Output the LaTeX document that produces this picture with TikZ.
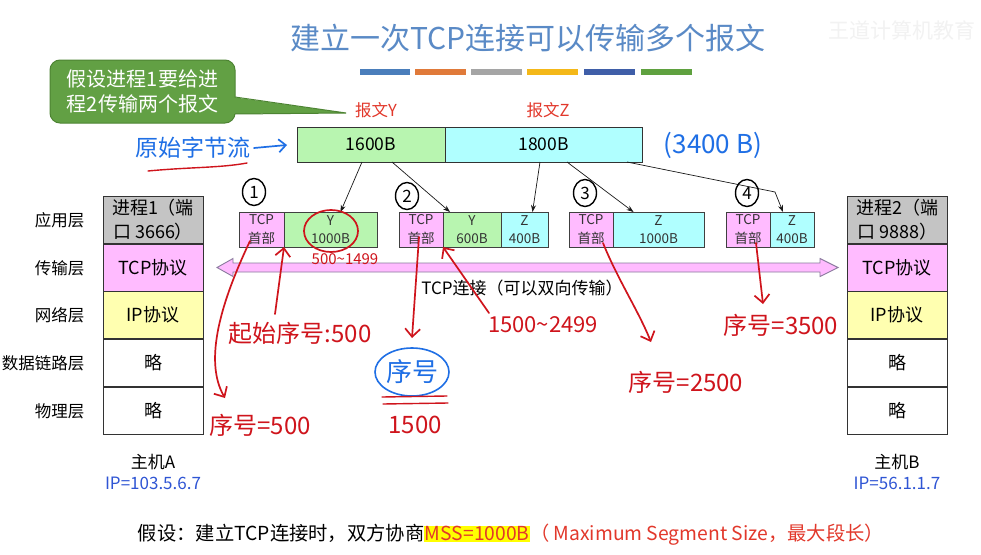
\documentclass[tikz,border=0pt]{standalone}
\usepackage{fontspec}
\setmainfont{Noto Sans CJK SC}
\usetikzlibrary{arrows.meta,calc,shapes.geometric}

\definecolor{titleblue}{HTML}{5A8AC6}
\definecolor{barblue}{HTML}{4A7EBB}
\definecolor{barorange}{HTML}{E07A3A}
\definecolor{bargray}{HTML}{A5A5A5}
\definecolor{baryellow}{HTML}{F4B819}
\definecolor{bardark}{HTML}{3F5EA8}
\definecolor{bargreen}{HTML}{5FA13F}
\definecolor{pinkfill}{HTML}{FFBBFF}
\definecolor{yellowfill}{HTML}{FFFFB0}
\definecolor{grayfill}{HTML}{C4C4C4}
\definecolor{greenfill}{HTML}{B8F5B0}
\definecolor{cyanfill}{HTML}{B0FFFF}
\definecolor{textred}{HTML}{E2382B}
\definecolor{inkred}{HTML}{CF141C}
\definecolor{inkblue}{HTML}{1F6FE5}
\definecolor{ipblue}{HTML}{2F55D4}
\definecolor{calloutgreen}{HTML}{62A044}
\definecolor{calloutedge}{HTML}{4D8433}
\definecolor{linkedge}{HTML}{8A7A9E}
\definecolor{mssyellow}{HTML}{FFFF00}

\newcommand{\fsz}[2]{\fontsize{#1}{#2}\selectfont}

\begin{document}
\begin{tikzpicture}[x=1pt,y=-1pt,
    layer/.style={draw=black!80, line width=0.9pt, minimum width=100pt, minimum height=47.8pt,
        inner sep=0pt, outer sep=0pt, align=center, font=\fsz{18}{24}},
    layername/.style={anchor=east, font=\fsz{16.5}{16.5}},
    seg/.style={draw=black!75, line width=0.8pt, minimum height=35pt, inner sep=0pt, outer sep=0pt,
        anchor=west, align=center, text=black!80, font=\fsz{13.5}{18}},
    bytes/.style={draw=black!80, line width=0.9pt, minimum height=35pt, inner sep=0pt, outer sep=0pt,
        font=\fsz{17.5}{17.5}},
    feed/.style={-{Stealth[length=7pt,width=5pt]}, line width=0.7pt, black!90},
    numcirc/.style={ellipse, draw, line width=1.4pt, inner sep=0pt, minimum width=23pt,
        minimum height=27pt, font=\fsz{17}{17}},
    ink/.style={draw=inkred, line width=1.7pt, line cap=round, line join=round},
    inktip/.style={-{Straight Barb[length=8pt,width=15pt]}},
    inktext/.style={text=inkred, font=\fsz{24}{24}},
  ]
  \useasboundingbox (0,0) rectangle (981,554);
  \fill[white] (0,0) rectangle (981,554);

  % title and bars
  \node[text=titleblue, font=\fsz{30}{30}] (title) at (528,38) {建立一次TCP连接可以传输多个报文};
  \node[text=black!5, font=\fsz{21}{21}] (mark) at (902,30) {王道计算机教育};
  \foreach \xa/\xb/\c in {360/410/barblue, 415/466/barorange, 471/522/bargray,
                          527/578/baryellow, 584/635/bardark, 641/692/bargreen}
    \fill[\c] (\xa,69) rectangle (\xb,75);

  % callout
  \node[fill=calloutgreen, draw=calloutedge, line width=1pt, rounded corners=10pt,
        minimum width=185pt, minimum height=63pt, text=white, align=left,
        font=\fsz{20}{25}] (note) at (142.5,91.5) {假设进程1要给进\\程2传输两个报文};
  \coordinate (notetip) at (346,113);
  \fill[calloutgreen] (232,97) -- (notetip) -- (232,114) -- cycle;
  \draw[calloutedge, line width=1pt] (235,97) -- (notetip) -- (235,114);

  % byte stream
  \node[text=textred, font=\fsz{16.5}{16.5}] (labY) at (376,110) {报文Y};
  \node[text=textred, font=\fsz{16.5}{16.5}] (labZ) at (548,110) {报文Z};
  \node[bytes, fill=greenfill, minimum width=148pt, anchor=west] (msgY) at (297,144.5) {1600B};
  \node[bytes, fill=cyanfill, minimum width=197pt, anchor=west] (msgZ) at (msgY.east) {1800B};

  % host A
  \node[layer, fill=grayfill] (A1) at (153,220) {进程1（端\\口 3666）};
  \node[layer, fill=pinkfill] (A2) at (153,268) {TCP协议};
  \node[layer, fill=yellowfill] (A3) at (153,315) {IP协议};
  \node[layer] (A4) at (153,363) {略};
  \node[layer] (A5) at (153,411) {略};
  \node[layername] (L1) at (88,220) {应用层};
  \node[layername] (L2) at (88,268) {传输层};
  \node[layername] (L3) at (88,315) {网络层};
  \node[layername] (L4) at (88,363) {数据链路层};
  \node[layername] (L5) at (88,411) {物理层};
  \node[font=\fsz{17}{17}] (hostA) at (153,462) {主机A};
  \node[text=ipblue, font=\fsz{17}{17}] (ipA) at (153,483) {IP=103.5.6.7};

  % host B
  \node[layer, fill=grayfill] (B1) at (897,220) {进程2（端\\口 9888）};
  \node[layer, fill=pinkfill] (B2) at (897,268) {TCP协议};
  \node[layer, fill=yellowfill] (B3) at (897,315) {IP协议};
  \node[layer] (B4) at (897,363) {略};
  \node[layer] (B5) at (897,411) {略};
  \node[font=\fsz{17}{17}] (hostB) at (897,462) {主机B};
  \node[text=ipblue, font=\fsz{17}{17}] (ipB) at (897,483) {IP=56.1.1.7};

  % segments
  \node[seg, fill=pinkfill, minimum width=45pt] (s1h) at (239,229.5) {TCP\\首部};
  \node[seg, fill=greenfill, minimum width=93pt] (s1y) at (s1h.east) {Y\\1000B};
  \node[seg, fill=pinkfill, minimum width=44pt] (s2h) at (399,229.5) {TCP\\首部};
  \node[seg, fill=greenfill, minimum width=58pt] (s2y) at (s2h.east) {Y\\600B};
  \node[seg, fill=cyanfill, minimum width=47pt] (s2z) at (s2y.east) {Z\\400B};
  \node[seg, fill=pinkfill, minimum width=44pt] (s3h) at (569,229.5) {TCP\\首部};
  \node[seg, fill=cyanfill, minimum width=91pt] (s3z) at (s3h.east) {Z\\1000B};
  \node[seg, fill=pinkfill, minimum width=44pt] (s4h) at (726,229.5) {TCP\\首部};
  \node[seg, fill=cyanfill, minimum width=44pt] (s4z) at (s4h.east) {Z\\400B};

  \coordinate (f1) at (362,162);
  \coordinate (f2) at (392,162);
  \coordinate (f3) at (540,162);
  \coordinate (f4) at (567,162);
  \coordinate (f5) at (627,162);
  \coordinate (bend4) at (775,192);
  \draw[feed] (f1) -- ($(s1y.north)+(10,0)$);
  \draw[feed] (f2) -- ($(s2y.north west)+(7,0)$);
  \draw[feed] (f3) -- ($(s2z.north)+(8,0)$);
  \draw[feed] (f4) -- ($(s3z.north)+(-25,0)$);
  \draw[feed] (f5) -- (bend4) -- ($(s4z.north)+(-9,0)$);

  \node[numcirc] (n1) at (254,192) {1};
  \node[numcirc] (n2) at (407,196) {2};
  \node[numcirc] (n3) at (585,193) {3};
  \node[numcirc] (n4) at (747,193) {4};

  % TCP connection
  \draw[linkedge, fill=pinkfill, line width=0.9pt]
    (217,267.5) -- (233,258.5) -- (233,263) -- (820,263) -- (820,258.5) -- (838,267.5)
    -- (820,276.5) -- (820,272) -- (233,272) -- (233,276.5) -- cycle;
  \node[font=\fsz{17}{17}] (link) at (522,288) {TCP连接（可以双向传输）};

  % handwritten notes
  \node[text=inkblue, font=\fsz{23}{23}] (raw) at (193,148) {原始字节流};
  \coordinate (rawend) at (287,145);
  \draw[inkblue, line width=1.7pt, line cap=round, -{Straight Barb[length=7pt,width=13pt]}]
    (raw.east) -- (rawend);
  \draw[ink, line width=1.4pt] (148,171) .. controls (190,167) and (220,168) .. (247,163);
  \node[text=inkblue, font=\fsz{26}{26}] (total) at (713,145) {(3400 B)};

  \draw[ink] (331,231) ellipse [x radius=27, y radius=21];
  \node[text=inkred, font=\fsz{15}{15}] (r1) at (345,259) {500{\char"7E}1499};

  \node[inktext] (start) at (300,333) {起始序号:500};
  \draw[ink, inktip] (275,314) -- (s1y.south west);

  \node[inktext] (q1) at (260,425) {序号=500};
  \draw[ink, inktip] (250,241) .. controls (222,300) and (203,360) .. (225,398);

  \draw[ink, inktip] (419,237) -- (412,338);
  \node[text=inkblue, font=\fsz{26}{26}] (q2) at (412,372) {序号};
  \draw[inkblue, line width=1.6pt] (q2) ellipse [x radius=37, y radius=24];
  \draw[ink, line width=1.4pt] (382,397) -- (447,396);
  \draw[ink, line width=1.4pt] (383,404) -- (448,403);
  \node[inktext] (q2v) at (415,425) {1500};

  \node[text=inkred, font=\fsz{22}{22}] (r2) at (543,325) {1500{\char"7E}2499};
  \draw[ink, inktip] (489,313) -- (s2y.south west);

  \draw[ink, inktip] (603,243) .. controls (618,280) and (638,310) .. (651,342);
  \node[inktext] (q3) at (686,382) {序号=2500};

  \draw[ink, inktip] (756,243) -- (763,304);
  \node[inktext] (q4) at (781,325) {序号=3500};

  % assumption
  \node[font=\fsz{19.3}{19.3}] (mss) at (511,535)
    {假设：建立TCP连接时，双方协商{\setlength{\fboxsep}{0.5pt}\colorbox{mssyellow}{\textcolor{textred}{MSS=1000B}}}\textcolor{textred}{（ Maximum Segment Size，最大段长）}};
\end{tikzpicture}
\end{document}
